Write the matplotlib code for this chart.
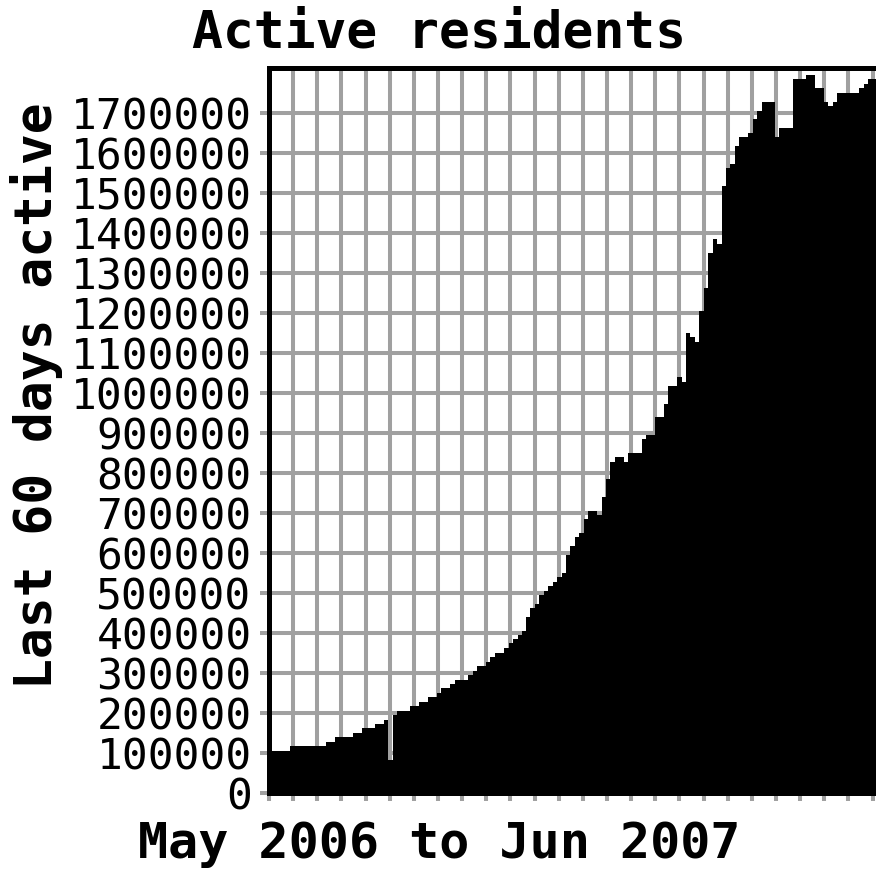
import matplotlib
matplotlib.use("Agg")
import matplotlib.pyplot as plt
import numpy as np

# ---- data ----
# day offsets from start (May 2006) where the value changes, and the value from there on
days = [0.0, 13.9, 37.8, 43.7, 55.7, 61.6, 70.2, 76.2, 78.9, 82.2, 84.8, 93.4, 99.4,
        105.4, 111.3, 114.0, 120.0, 123.3, 131.9, 135.2, 137.8, 143.8, 146.5, 149.8,
        155.7, 159.0, 161.7, 165.0, 167.7, 170.3, 173.0, 176.3, 178.9, 182.2, 184.9,
        188.2, 190.9, 194.2, 196.8, 199.5, 202.8, 205.4, 208.8, 211.4, 217.4, 220.7,
        223.3, 226.0, 229.3, 235.3, 237.9, 247.2, 249.8, 255.8, 261.8, 264.4, 270.4,
        273.7, 276.3, 279.0, 282.3, 285.0, 288.3, 290.9, 294.2, 296.9, 300.2, 302.9,
        305.5, 308.8, 311.5, 317.4, 320.7, 323.4, 326.7, 335.3, 338.0, 347.3, 355.9,
        361.8, 367.8, 370.5, 373.8, 376.4, 391.0, 394.3, 397.0]
active = [105000, 117500, 127500, 140000, 150000, 162500, 172500, 182500, 82500, 195000,
          205000, 217500, 227500, 240000, 250000, 262500, 272500, 282500, 295000, 305000,
          317500, 327500, 340000, 350000, 362500, 375000, 385000, 395000, 405000, 440000,
          462500, 472500, 495000, 505000, 517500, 527500, 540000, 550000, 595000, 617500,
          640000, 650000, 685000, 705000, 695000, 740000, 785000, 827500, 840000, 827500,
          850000, 885000, 895000, 940000, 972500, 1017500, 1040000, 1027500, 1150000,
          1140000, 1127500, 1205000, 1262500, 1350000, 1385000, 1372500, 1517500, 1562500,
          1572500, 1617500, 1640000, 1650000, 1685000, 1705000, 1727500, 1640000, 1662500,
          1785000, 1795000, 1762500, 1727500, 1717500, 1727500, 1750000, 1762500, 1772500,
          1785000]
x_end = 406.0
x_ticks = list(range(0, 401, 16))
y_ticks = list(range(0, 1700001, 100000))
title = "Active residents"
x_label = "May 2006 to Jun 2007"
y_label = "Last 60 days active"

W, H = 876, 872
fig = plt.figure(figsize=(W / 100, H / 100), dpi=100)
left_px, right_px, top_px, bottom_px = 269, 269 + x_end * 1.509, 68.5, 793
ax = fig.add_axes([left_px / W, (H - bottom_px) / H,
                   (right_px - left_px) / W, (bottom_px - top_px) / H])

xs = np.array(days + [x_end])
ys = np.array(active + [active[-1]])
ax.fill_between(xs, ys, 0, step="post", color="black", linewidth=0, zorder=2)

ax.set_xlim(0, x_end)
ax.set_ylim(0, 1810000)
ax.set_axisbelow(True)
grid_col = "#a0a0a0"
ax.set_xticks(x_ticks)
ax.set_yticks(y_ticks)
ax.grid(True, color=grid_col, linewidth=2.9)
ax.set_xticklabels([])
ax.set_yticklabels([str(v) for v in y_ticks], family="DejaVu Sans Mono", fontsize=31)
ax.tick_params(axis="x", direction="out", length=5.5, width=2.9, color=grid_col)
ax.tick_params(axis="y", direction="out", length=6.5, width=2.9, color=grid_col, pad=6.0)
for s in ax.spines.values():
    s.set_linewidth(3.6)
    s.set_color("black")

fig.text(439.5 / W, (H - 47) / H, title, ha="center", va="baseline",
         family="DejaVu Sans Mono", fontweight="bold", fontsize=37)
fig.text(439 / W, (H - 858) / H, x_label, ha="center", va="baseline",
         family="DejaVu Sans Mono", fontweight="bold", fontsize=36)
fig.text(52 / W, (H - 395.5) / H, y_label, ha="center", va="baseline", rotation=90,
         rotation_mode="anchor", family="DejaVu Sans Mono", fontweight="bold", fontsize=37)

fig.savefig("out.png", dpi=100)
